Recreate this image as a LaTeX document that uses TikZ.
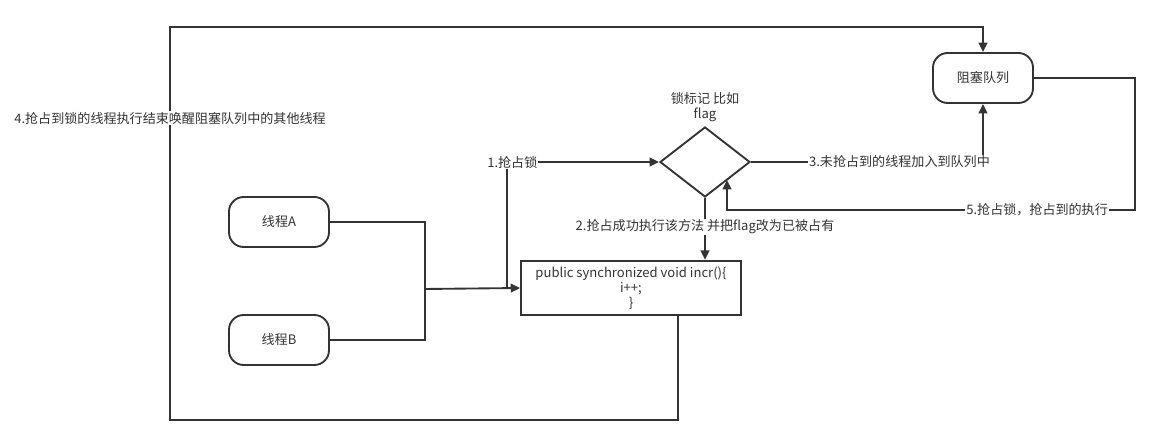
\documentclass[tikz,border=0pt]{standalone}
\usepackage{fontspec}
\setmainfont{Noto Sans CJK SC}
\usetikzlibrary{arrows.meta,shapes.geometric,calc}
\definecolor{ink}{HTML}{333333}
\tikzset{
  x=0.75pt,y=-0.75pt,
  every node/.style={font=\fontsize{9.8pt}{12pt}\selectfont, text=ink},
  pill/.style={draw=ink, line width=1.4pt, rounded corners=11pt, minimum width=75pt, minimum height=37.5pt, inner sep=0pt},
  codebox/.style={draw=ink, line width=1.4pt, minimum width=165pt, minimum height=41pt, inner sep=0pt, align=center, font=\fontsize{9.8pt}{11.3pt}\selectfont},
  decide/.style={draw=ink, line width=1.4pt, diamond, minimum width=67.5pt, minimum height=52.5pt, inner sep=0pt},
  wire/.style={draw=ink, line width=1.4pt},
  arrow/.style={wire, -{Triangle[length=7pt,width=6.5pt]}},
  lbl/.style={fill=white, inner sep=0.8pt},
}
\begin{document}
\begin{tikzpicture}
\useasboundingbox (0,0) rectangle (1161,448);
% nodes
\node[pill] (q) at (983,78) {阻塞队列};
\node[pill] (A) at (279,222) {线程A};
\node[pill] (B) at (279,340) {线程B};
\node[decide] (d) at (705,162) {};
\node[align=center, font=\fontsize{9.8pt}{11.5pt}\selectfont] (dl) at (705,107) {锁标记 比如\\flag};
\node[codebox] (code) at (631,288) {public synchronized void incr()\{\\i++;\\\}};
% coordinates
\coordinate (j) at (425,289);
\coordinate (k) at (507,289);
\coordinate (r5) at (1135,210);
\coordinate (d5) at (727,210);
\coordinate (d5t) at (727,180);
\coordinate (c4) at (678,288);
\coordinate (b4) at (678,420);
\coordinate (l4) at (170,420);
\coordinate (t4) at (170,27);
% connectors
\draw[wire] (A.east) -| (j);
\draw[wire] (B.east) -| (j);
\draw[arrow] (j) -- (code.west);
\draw[arrow] (k) |- node[lbl, pos=0.5, xshift=4pt] {1.抢占锁} (d.west);
\draw[arrow] (d.south) -- node[lbl, pos=0.47] {2.抢占成功执行该方法 并把flag改为已被占有} (d.south |- code.north);
\draw[arrow] (d.east) -| node[lbl, pos=0.32] {3.未抢占到的线程加入到队列中} (q.south);
\draw[arrow] (q.east) -| (r5) -- node[lbl, pos=0.24] {5.抢占锁，抢占到的执行} (d5) -- (d5t);
\draw[arrow] (c4 |- code.south) -- (b4) -- (l4) -- node[lbl, pos=0.768] {4.抢占到锁的线程执行结束唤醒阻塞队列中的其他线程} (t4) -| (q.north);
\end{tikzpicture}
\end{document}
